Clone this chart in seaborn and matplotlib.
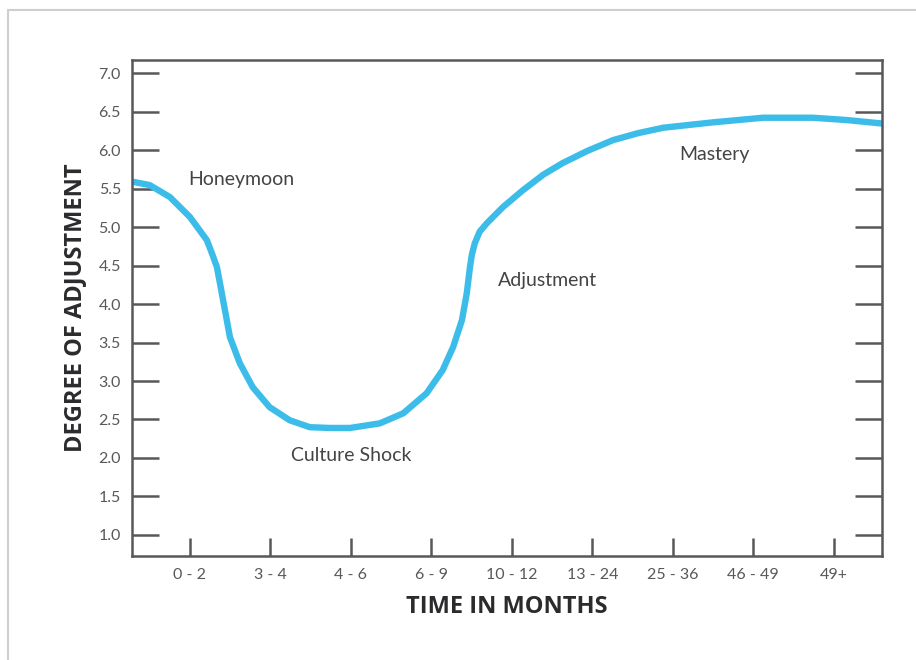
import matplotlib
matplotlib.use("Agg")
import matplotlib.pyplot as plt
import seaborn as sns
import pandas as pd
from matplotlib.patches import Rectangle

sns.set_style("white")
plt.rcParams["font.family"] = ["Lato", "DejaVu Sans"]

# category ticks on the time axis
months = ["0 - 2", "3 - 4", "4 - 6", "6 - 9", "10 - 12", "13 - 24", "25 - 36", "46 - 49", "49+"]

# curve (x in category units, y = degree of adjustment)
curve_x = [-0.72, -0.50, -0.25, 0.0, 0.21, 0.273, 0.335, 0.373, 0.435, 0.497, 0.62, 0.78, 0.99,
           1.24, 1.49, 1.74, 1.99, 2.36, 2.65, 2.94, 3.14, 3.27, 3.38, 3.44, 3.48, 3.503, 3.54,
           3.60, 3.69, 3.89, 4.14, 4.39, 4.63, 4.94, 5.26, 5.57, 5.88, 6.5, 7.12, 7.74, 8.16, 8.6]
curve_y = [5.59, 5.545, 5.39, 5.13, 4.83, 4.66, 4.48, 4.27, 3.92, 3.57, 3.23, 2.92, 2.66,
           2.49, 2.40, 2.39, 2.39, 2.45, 2.58, 2.84, 3.14, 3.44, 3.79, 4.14, 4.48, 4.64, 4.79,
           4.94, 5.05, 5.26, 5.48, 5.68, 5.83, 5.99, 6.13, 6.22, 6.29, 6.36, 6.42, 6.42, 6.39, 6.345]

y_ticks = [1.0, 1.5, 2.0, 2.5, 3.0, 3.5, 4.0, 4.5, 5.0, 5.5, 6.0, 6.5, 7.0]

phases = ["Honeymoon", "Culture Shock", "Adjustment", "Mastery"]
phase_x = [0.64, 2.0, 4.44, 6.52]
phase_y = [5.62, 2.03, 4.3, 5.94]

df = pd.DataFrame({"x": curve_x, "y": curve_y})

fig = plt.figure(figsize=(9.16, 6.6), dpi=100)
ax = fig.add_axes([0.1441, 0.1576, 0.8188, 0.7515])

sns.lineplot(data=df, x="x", y="y", ax=ax, color="#3cbde9", linewidth=4.6,
             sort=False, solid_capstyle="butt", solid_joinstyle="round")

ax.set_xlim(-0.72, 8.6)
ax.set_ylim(0.727, 7.17)
ax.set_xticks(range(len(months)))
ax.set_xticklabels(months)
ax.set_yticks(y_ticks)
ax.set_yticklabels([f"{v:.1f}" for v in y_ticks])

spine_c = "#58585a"
for s in ax.spines.values():
    s.set_visible(True)
    s.set_color(spine_c)
    s.set_linewidth(1.8)

ax.tick_params(axis="y", which="both", direction="in", length=19.5, width=1.8,
               color=spine_c, left=True, right=True, labelsize=11.5, labelcolor="#58585a", pad=8)
ax.tick_params(axis="x", direction="in", length=13, width=1.8, color=spine_c,
               bottom=True, labelsize=11.5, labelcolor="#58585a", pad=9)

label_font = {"family": ["Open Sans", "DejaVu Sans"], "size": 17, "weight": "bold", "color": "#2b2b2e"}
ax.set_xlabel("TIME IN MONTHS", fontdict=label_font, labelpad=9)
ax.set_ylabel("DEGREE OF ADJUSTMENT", fontdict=label_font, labelpad=8)

for name, px, py in zip(phases, phase_x, phase_y):
    ax.text(px, py, name, fontsize=14, color="#444446", ha="center", va="center")

fig.patches.append(Rectangle((8 / 916, -0.1), 1.2, 1 - 10 / 660 + 0.1, transform=fig.transFigure,
                             fill=False, edgecolor="#cfcfcf", linewidth=1.5))

fig.savefig("out.png", dpi=100)
